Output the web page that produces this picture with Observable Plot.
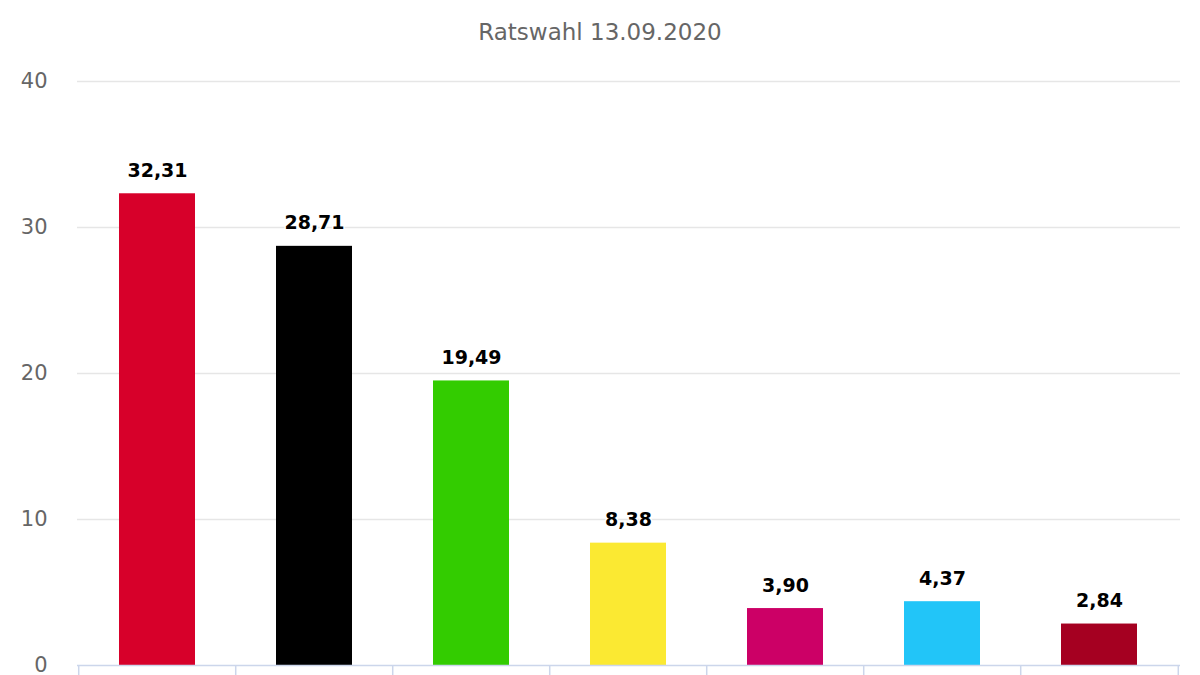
<!DOCTYPE html>
<html>
<head>
<meta charset="utf-8">
<script src="https://cdn.jsdelivr.net/npm/d3@7"></script>
<script src="https://cdn.jsdelivr.net/npm/@observablehq/plot@0.6"></script>
<style>
  html, body { margin: 0; padding: 0; background: #fff; }
  #title { height: 60px; width: 1200px; text-align: center; font-family: "DejaVu Sans", sans-serif;
           font-size: 23px; color: #666; line-height: 1; padding-top: 21px; box-sizing: border-box; }
  #chart svg { display: block; }
</style>
</head>
<body>
<div id="title">Ratswahl 13.09.2020</div>
<div id="chart"></div>
<script>
const parties = ["SPD", "CDU", "GRÜNE", "FDP", "DIE LINKE", "AfD", "Sonstige"];
const shares = [32.31, 28.71, 19.49, 8.38, 3.90, 4.37, 2.84];
const partyColors = ["#d7002a", "#000000", "#33cc00", "#fbe932", "#cc0066", "#22c5f8", "#a50021"];
const yTicks = [0, 10, 20, 30, 40];

const data = parties.map((p, i) => ({party: p, value: shares[i], color: partyColors[i]}));

const width = 1200, height = 625;
const marginLeft = 77, marginRight = 20, marginTop = 21, marginBottom = 20;
const step = (width - marginLeft - marginRight) / parties.length;
const fmt = v => d3.format(".2f")(v).replace(".", ",");

const chart = Plot.plot({
  width, height, marginLeft, marginRight, marginTop, marginBottom,
  style: {fontFamily: "DejaVu Sans, sans-serif", background: "#fff"},
  x: {type: "band", domain: parties, paddingInner: 0.515, paddingOuter: 0.2575, axis: null},
  y: {domain: [0, 40], axis: null},
  marks: [
    Plot.gridY(yTicks.filter(t => t > 0), {stroke: "#e6e6e6", strokeOpacity: 1, strokeWidth: 1.5}),
    Plot.axisY(yTicks, {tickSize: 0, tickPadding: 30, fontSize: 21, fill: "#666", label: null}),
    Plot.barY(data, {x: "party", y: "value", fill: "color"}),
    Plot.ruleY([0], {stroke: "#ccd6eb", strokeWidth: 1.5}),
    Plot.ruleX(parties, {x: d => d, y1: 0, y2: 0, insetBottom: -10, dx: -step / 2, stroke: "#ccd6eb", strokeWidth: 1.5}),
    Plot.ruleX(parties.slice(-1), {x: d => d, y1: 0, y2: 0, insetBottom: -10, dx: step / 2, stroke: "#ccd6eb", strokeWidth: 1.5}),
    Plot.text(data, {x: "party", y: "value", text: d => fmt(d.value), lineAnchor: "bottom", dy: -17,
      fontSize: 19, fontWeight: "bold", fill: "#000", stroke: "#fff", strokeWidth: 3})
  ]
});
document.getElementById("chart").appendChild(chart);
</script>
</body>
</html>
